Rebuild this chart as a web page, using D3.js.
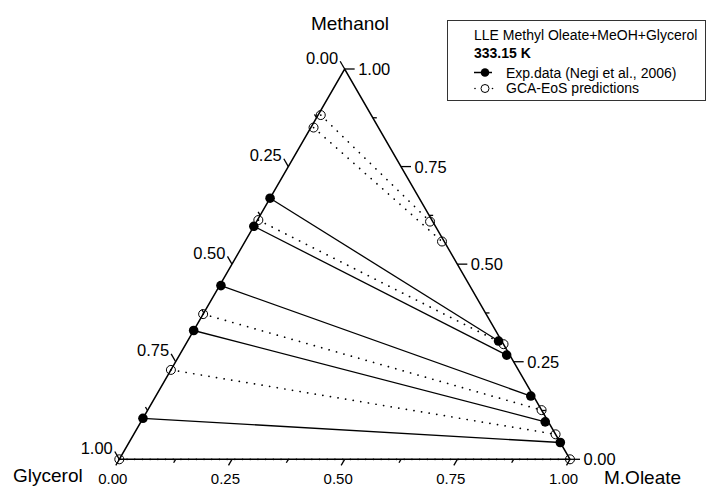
<!DOCTYPE html>
<html>
<head>
<meta charset="utf-8">
<script src="https://cdn.jsdelivr.net/npm/d3@7"></script>
<style>
  body { margin: 0; background: #fff; }
  svg { display: block; font-family: "Liberation Sans", Arial, sans-serif; }
</style>
</head>
<body>
<div id="chart"></div>
<script>
const majorTicks = [0, 0.25, 0.5, 0.75, 1]
const minorTicks = [0.125, 0.375, 0.625, 0.875]
const tickLabels = ["0.00", "0.25", "0.50", "0.75", "1.00"]

// experimental tie lines (glycerol-rich phase <-> ester-rich phase), mole fractions
const expMeOHGly = [0.105, 0.330, 0.445, 0.597, 0.669]
const expOleGly = [0, 0, 0.003, 0, 0]
const expMeOHEst = [0.043, 0.096, 0.162, 0.267, 0.303]
const expOleEst = [0.957, 0.897, 0.832, 0.726, 0.690]

// GCA-EoS predicted tie lines
const predMeOHGly = [0, 0.229, 0.372, 0.613, 0.850, 0.882]
const predOleGly = [0, 0, 0, 0.002, 0.006, 0.006]
const predMeOHEst = [0, 0.064, 0.126, 0.295, 0.558, 0.609]
const predOleEst = [1, 0.936, 0.874, 0.705, 0.437, 0.385]

const width = 714
const height = 487

const x = d3.scaleLinear().domain([0, 1]).range([119.3, 570])
const y = d3.scaleLinear().domain([0, 1]).range([459.3, 69])
// methanol fraction m, oleate fraction o -> pixel
const px = (m, o) => [x(o + m / 2), y(m)]

const svg = d3
  .create("svg")
  .attr("width", width)
  .attr("height", height)
  .attr("viewBox", [0, 0, width, height])

// tie lines
const expTies = d3.range(expMeOHGly.length).map(i => [
  px(expMeOHGly[i], expOleGly[i]),
  px(expMeOHEst[i], expOleEst[i])
])
const predTies = d3.range(predMeOHGly.length).map(i => [
  px(predMeOHGly[i], predOleGly[i]),
  px(predMeOHEst[i], predOleEst[i])
])

svg
  .append("g")
  .selectAll("line")
  .data(predTies)
  .join("line")
  .attr("x1", d => d[0][0])
  .attr("y1", d => d[0][1])
  .attr("x2", d => d[1][0])
  .attr("y2", d => d[1][1])
  .attr("stroke", "#000")
  .attr("stroke-width", 1.7)
  .attr("stroke-linecap", "round")
  .attr("stroke-dasharray", "0.1 7.6")

svg
  .append("g")
  .selectAll("line")
  .data(expTies)
  .join("line")
  .attr("x1", d => d[0][0])
  .attr("y1", d => d[0][1])
  .attr("x2", d => d[1][0])
  .attr("y2", d => d[1][1])
  .attr("stroke", "#000")
  .attr("stroke-width", 1.3)

// triangle
const tri = [px(0, 0), px(0, 1), px(1, 0)]
svg
  .append("path")
  .attr("d", d3.line()(tri) + "Z")
  .attr("fill", "none")
  .attr("stroke", "#000")
  .attr("stroke-width", 1.5)

// axes: bottom = M.Oleate, right = Methanol, left = Glycerol
const axes = [
  { base: t => px(0, t), dir: [-0.5, 0.866], major: 7, minor: 4 },
  { base: t => px(t, 1 - t), dir: [1, 0], major: 10, minor: 4 },
  { base: t => px(1 - t, 0), dir: [-0.5, -0.866], major: 9, minor: 4 }
]

const tickG = svg.append("g").attr("stroke", "#000").attr("stroke-width", 1.3)
axes.forEach(a => {
  const all = majorTicks
    .map(t => ({ t, len: a.major }))
    .concat(minorTicks.map(t => ({ t, len: a.minor })))
  tickG
    .append("g")
    .selectAll("line")
    .data(all)
    .join("line")
    .attr("x1", d => a.base(d.t)[0])
    .attr("y1", d => a.base(d.t)[1])
    .attr("x2", d => a.base(d.t)[0] + a.dir[0] * d.len)
    .attr("y2", d => a.base(d.t)[1] + a.dir[1] * d.len)
})

const labelG = svg.append("g").attr("fill", "#000")

// bottom labels
labelG
  .append("g")
  .attr("font-size", 15)
  .attr("text-anchor", "middle")
  .selectAll("text")
  .data(majorTicks)
  .join("text")
  .attr("x", d => axes[0].base(d)[0] + axes[0].dir[0] * 7 - 3)
  .attr("y", 484)
  .text((d, i) => tickLabels[i])

// right labels
labelG
  .append("g")
  .attr("font-size", 16.5)
  .attr("text-anchor", "start")
  .selectAll("text")
  .data(majorTicks)
  .join("text")
  .attr("x", d => axes[1].base(d)[0] + 13.5)
  .attr("y", d => axes[1].base(d)[1])
  .attr("dy", "0.36em")
  .text((d, i) => tickLabels[i])

// left labels
labelG
  .append("g")
  .attr("font-size", 16.5)
  .attr("text-anchor", "end")
  .selectAll("text")
  .data(majorTicks)
  .join("text")
  .attr("x", d => axes[2].base(d)[0] + axes[2].dir[0] * 9 - 2)
  .attr("y", d => axes[2].base(d)[1] + axes[2].dir[1] * 9 + 2.5)
  .text((d, i) => tickLabels[i])

// points
const expPts = expTies.flat()
const predPts = predTies.flat()
svg
  .append("g")
  .selectAll("circle")
  .data(predPts)
  .join("circle")
  .attr("cx", d => d[0])
  .attr("cy", d => d[1])
  .attr("r", 4.5)
  .attr("fill", "none")
  .attr("stroke", "#000")
  .attr("stroke-width", 1)

svg
  .append("g")
  .selectAll("circle")
  .data(expPts)
  .join("circle")
  .attr("cx", d => d[0])
  .attr("cy", d => d[1])
  .attr("r", 4.8)
  .attr("fill", "#000")

// vertex titles
const titles = svg.append("g").attr("font-size", 19).attr("fill", "#000")
titles.append("text").attr("x", 350).attr("y", 30).attr("text-anchor", "middle").text("Methanol")
titles.append("text").attr("x", 13).attr("y", 481.5).text("Glycerol")
titles.append("text").attr("x", 604).attr("y", 484).text("M.Oleate")

// legend
const legend = svg.append("g").attr("font-size", 14)
legend
  .append("rect")
  .attr("x", 447.5)
  .attr("y", 20.5)
  .attr("width", 258)
  .attr("height", 80)
  .attr("fill", "#fff")
  .attr("stroke", "#333")
  .attr("stroke-width", 1)
legend.append("text").attr("x", 474).attr("y", 39.5).text("LLE Methyl Oleate+MeOH+Glycerol")
legend.append("text").attr("x", 474).attr("y", 58).attr("font-weight", "bold").text("333.15 K")

legend
  .append("line")
  .attr("x1", 474)
  .attr("x2", 492)
  .attr("y1", 72.5)
  .attr("y2", 72.5)
  .attr("stroke", "#000")
  .attr("stroke-width", 1.5)
legend.append("circle").attr("cx", 485).attr("cy", 72.5).attr("r", 4.3).attr("fill", "#000")
legend.append("text").attr("x", 506).attr("y", 77.5).text("Exp.data (Negi et al., 2006)")

legend
  .append("g")
  .selectAll("circle")
  .data([475, 492.5])
  .join("circle")
  .attr("cx", d => d)
  .attr("cy", 88.5)
  .attr("r", 0.8)
  .attr("fill", "#000")
legend
  .append("circle")
  .attr("cx", 485)
  .attr("cy", 88.5)
  .attr("r", 4)
  .attr("fill", "none")
  .attr("stroke", "#000")
  .attr("stroke-width", 1)
legend.append("text").attr("x", 506).attr("y", 93).text("GCA-EoS predictions")

document.querySelector("#chart").append(svg.node())
</script>
</body>
</html>
